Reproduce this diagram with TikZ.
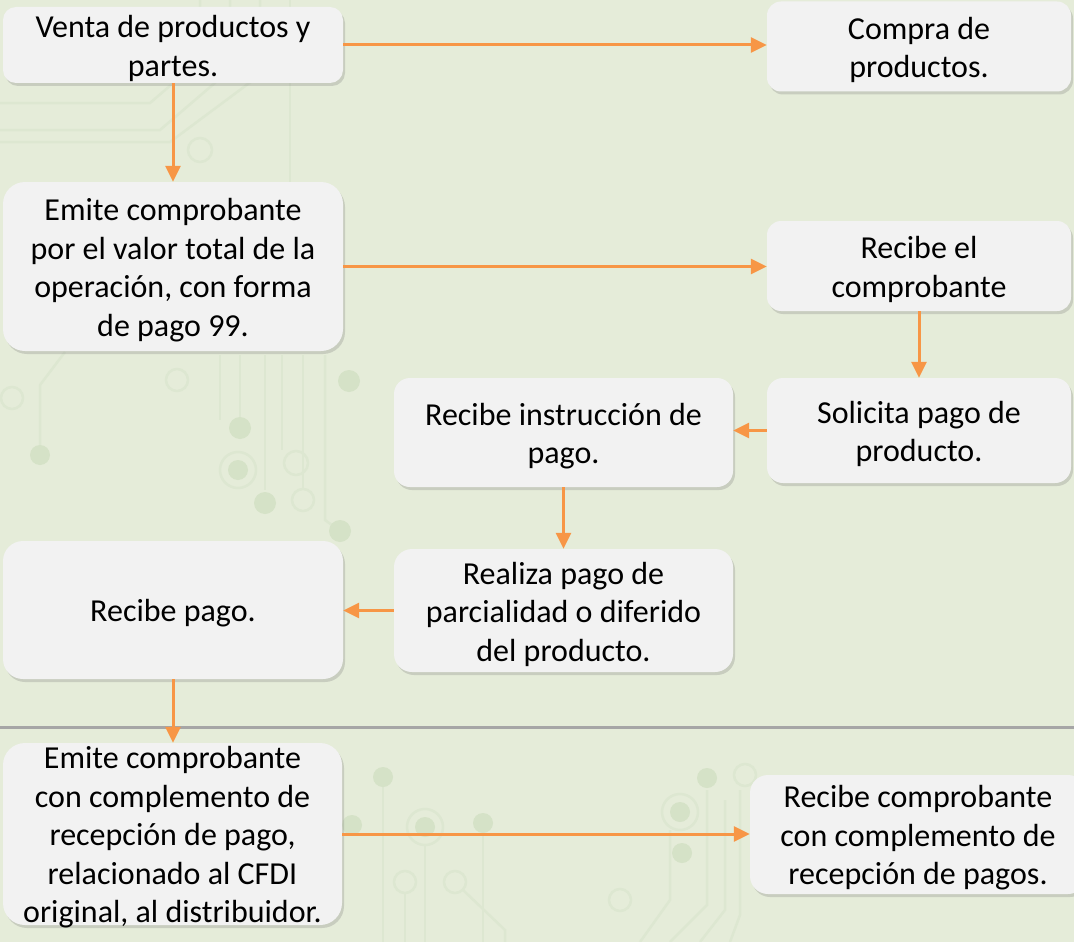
\documentclass[tikz,border=0pt]{standalone}
\usepackage{fontspec}
\setmainfont{Carlito}
\usetikzlibrary{arrows.meta,shadows}
\definecolor{bgc}{RGB}{229,236,217}
\definecolor{boxc}{RGB}{242,242,242}
\definecolor{arr}{RGB}{247,150,70}
\definecolor{sepc}{RGB}{166,166,166}
\definecolor{circl}{RGB}{221,231,209}
\definecolor{circd}{RGB}{213,226,199}
\tikzset{
  flowbox/.style={rectangle, rounded corners=#1, fill=boxc, draw=none,
    inner sep=0pt,
    drop shadow={shadow xshift=2pt, shadow yshift=-3pt, opacity=0.25, fill=black!55}},
  flowbox/.default=15pt,
  boxtext/.style={align=center, inner sep=0pt, font=\fontsize{32}{38.5}\selectfont},
  flowarrow/.style={draw=arr, line width=3pt, -{Triangle[length=16pt,width=15pt]}},
  sepline/.style={draw=sepc, line width=3pt},
  trace/.style={draw=circl, line width=2.5pt},
  ring/.style={draw=circl, line width=2.5pt},
  pad/.style={fill=circd}
}
% #1 name, #2 x, #3 y, #4 width, #5 height, #6 corner radius, #7 text
\newcommand\flowstep[7]{%
  \node[flowbox=#6, minimum width=#4, minimum height=#5] (#1) at (#2,#3) {};
  \node[boxtext] (#1t) at ([yshift=-3.5pt]#1.center) {#7};}
\begin{document}
\begin{tikzpicture}[x=1pt,y=-1pt]
\fill[bgc] (0,0) rectangle (1074,942);
\useasboundingbox (0,0) rectangle (1074,942);
% faint circuit background
\draw[trace] (0,103) -- (150,103) -- (200,60) -- (200,0);
\draw[trace] (0,130) -- (160,130) -- (230,70) -- (230,0);
\draw[trace] (0,142) -- (170,142) -- (260,75) -- (260,0);
\draw[trace] (290,0) -- (290,200);
\draw[ring] (200,150) circle (12);
\draw[trace] (40,455) -- (40,385) -- (65,352);
\draw[ring] (12,398) circle (11);
\fill[pad] (40,455) circle (10);
\draw[ring] (177,380) circle (11);
\draw[trace] (220,355) -- (220,420);
\draw[trace] (240,355) -- (240,417);
\draw[trace] (265,355) -- (265,490);
\draw[trace] (282,355) -- (282,450);
\draw[trace] (303,355) -- (303,488);
\draw[trace] (325,355) -- (325,520) -- (340,531);
\fill[pad] (240,428) circle (11);
\draw[ring] (238,470) circle (18);
\fill[pad] (238,470) circle (10);
\fill[pad] (265,503) circle (11);
\draw[ring] (296,463) circle (12);
\draw[ring] (303,500) circle (11);
\fill[pad] (340,531) circle (11);
\fill[pad] (349,381) circle (11);
% bottom circuit
\draw[trace] (383,777) -- (383,942);
\fill[pad] (383,777) circle (10);
\fill[pad] (352,825) circle (10);
\draw[trace] (425,845) -- (425,942);
\draw[ring] (425,827) circle (18);
\fill[pad] (425,827) circle (10);
\draw[trace] (483,823) -- (483,942);
\fill[pad] (483,823) circle (10);
\draw[trace] (405,893) -- (405,942);
\draw[ring] (405,882) circle (11);
\draw[trace] (463,890) -- (505,930) -- (505,942);
\draw[ring] (455,882) circle (11);
\draw[ring] (680,812) circle (18);
\fill[pad] (680,812) circle (10);
\fill[pad] (707,778) circle (10);
\fill[pad] (682,853) circle (10);
\draw[ring] (620,900) circle (11);
\draw[trace] (670,830) -- (670,900) -- (640,942);
\draw[trace] (707,790) -- (707,905) -- (670,942);
\draw[trace] (725,800) -- (725,910) -- (700,942);
\draw[trace] (740,790) -- (740,915) -- (730,942);
\draw[ring] (745,775) circle (11);

\draw[sepline] (0,727) -- (1074,727);

\flowstep{venta}{173}{45}{340pt}{76pt}{13pt}{Venta de productos y\\partes.}
\flowstep{compra}{919}{46.5}{304pt}{90pt}{14pt}{Compra de\\productos.}
\flowstep{emite}{173}{266.5}{340pt}{169pt}{22pt}{Emite comprobante\\por el valor total de la\\operación, con forma\\de pago 99.}
\flowstep{recibeel}{919}{266}{304pt}{90pt}{14pt}{Recibe el\\comprobante}
\flowstep{solicita}{919}{430.5}{304pt}{105pt}{16pt}{Solicita pago de\\producto.}
\flowstep{instr}{563.5}{432.5}{339pt}{109pt}{16pt}{Recibe instrucción de\\pago.}
\flowstep{realiza}{563.5}{610.5}{339pt}{123pt}{18pt}{Realiza pago de\\parcialidad o diferido\\del producto.}
\flowstep{pago}{173}{610}{340pt}{138pt}{20pt}{Recibe pago.}
\flowstep{emitec}{172.5}{834}{339pt}{182pt}{22pt}{Emite comprobante\\con complemento de\\recepción de pago,\\relacionado al CFDI\\original, al distribuidor.}
\flowstep{recibec}{918}{834.5}{336pt}{119pt}{18pt}{Recibe comprobante\\con complemento de\\recepción de pagos.}

\draw[flowarrow] (venta.east) -- (venta.east -| compra.west);
\draw[flowarrow] (venta.south) -- (emite.north);
\draw[flowarrow] (emite.east) -- (emite.east -| recibeel.west);
\draw[flowarrow] (recibeel.south) -- (recibeel.south |- solicita.north);
\draw[flowarrow] (solicita.west) -- (solicita.west -| instr.east);
\draw[flowarrow] (instr.south) -- (realiza.north);
\draw[flowarrow] (realiza.west) -- (realiza.west -| pago.east);
\draw[flowarrow] (pago.south) -- (pago.south |- emitec.north);
\draw[flowarrow] (emitec.east) -- (emitec.east -| recibec.west);
\end{tikzpicture}
\end{document}
